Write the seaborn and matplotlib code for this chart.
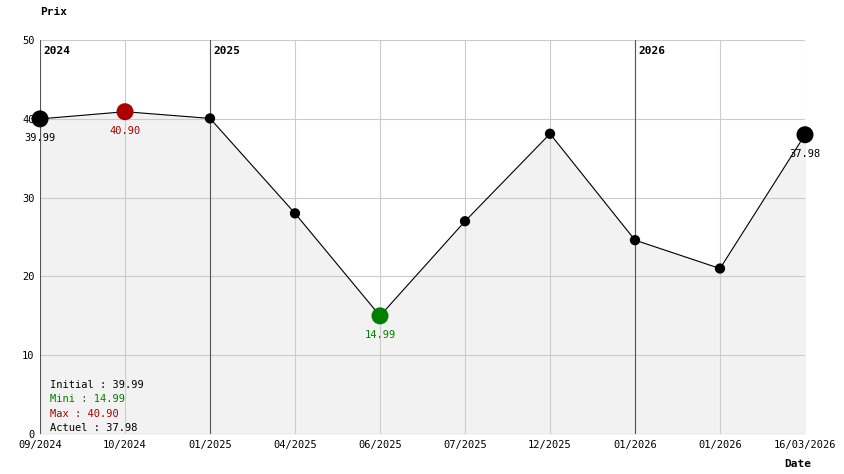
import matplotlib
matplotlib.use("Agg")
import matplotlib.pyplot as plt
import seaborn as sns
import pandas as pd

dates = ["09/2024","10/2024","01/2025","04/2025","06/2025","07/2025","12/2025","01/2026","01/2026","16/03/2026"]
prices = [39.99, 40.90, 40.05, 28.0, 14.99, 27.0, 38.1, 24.6, 21.0, 37.98]
years = ["2024","2025","2026"]
year_pos = [0, 2, 7]

sns.set_style("white")
plt.rcParams['font.family'] = ['DejaVu Sans Mono']
plt.rcParams['text.color'] = 'black'
plt.rcParams['xtick.color'] = 'black'
plt.rcParams['ytick.color'] = 'black'
df = pd.DataFrame({"x": range(len(prices)), "y": prices})

fig = plt.figure(figsize=(8.44, 4.74), dpi=100)
ax = fig.add_axes([40/844, 40/474, 765/844, 394/474])
ax.fill_between(df.x, df.y, 0, color="#f2f2f2", zorder=0)
ax.set_xlim(0, 9); ax.set_ylim(0, 50)
ax.set_xticks(range(10)); ax.set_xticklabels(dates, fontsize=7.5)
ax.set_yticks(range(0, 51, 10)); ax.tick_params(labelsize=7.5, length=0, pad=4)
ax.grid(True, color="#cccccc", lw=0.8)
ax.set_axisbelow(True)
for s in ax.spines.values(): s.set_visible(False)
for p, yl in zip(year_pos, years):
    ax.axvline(p, color="#555555", lw=0.8, zorder=1)
    ax.text(p + 0.04, 48.6, yl, fontsize=8, fontweight="bold", va="center", color="black")
sns.lineplot(data=df, x="x", y="y", color="black", lw=0.8, ax=ax, zorder=2)
imin = prices.index(min(prices)); imax = prices.index(max(prices))
cols = []; sizes = []
for i in range(len(prices)):
    c = "black"; s = 55
    if i == imax: c = "#aa0000"; s = 150
    elif i == imin: c = "green"; s = 150
    elif i in (0, len(prices)-1): s = 150
    cols.append(c); sizes.append(s)
ax.scatter(df.x, df.y, c=cols, s=sizes, zorder=3, clip_on=False, linewidths=0)
for i, c in [(0, "black"), (imax, "#aa0000"), (imin, "green"), (len(prices)-1, "black")]:
    ax.text(i, prices[i] - 1.8, f"{prices[i]:.2f}", color=c, fontsize=7.5, ha="center", va="top")
ax.set_xlabel(""); ax.set_ylabel("")
fig.text(40/844, 1 - 12/474, "Prix", fontsize=8, fontweight="bold", va="center", color="black")
fig.text(798/844, 1 - 464/474, "Date", fontsize=8, fontweight="bold", va="center", ha="center", color="black")
leg = [("Initial : 39.99", "black"), ("Mini : 14.99", "green"), ("Max : 40.90", "#aa0000"), ("Actuel : 37.98", "black")]
for k, (t, c) in enumerate(leg):
    ax.text(0.12, 6.2 - k*1.8, t, color=c, fontsize=7.5, va="center")
fig.savefig("out.png", dpi=100)
